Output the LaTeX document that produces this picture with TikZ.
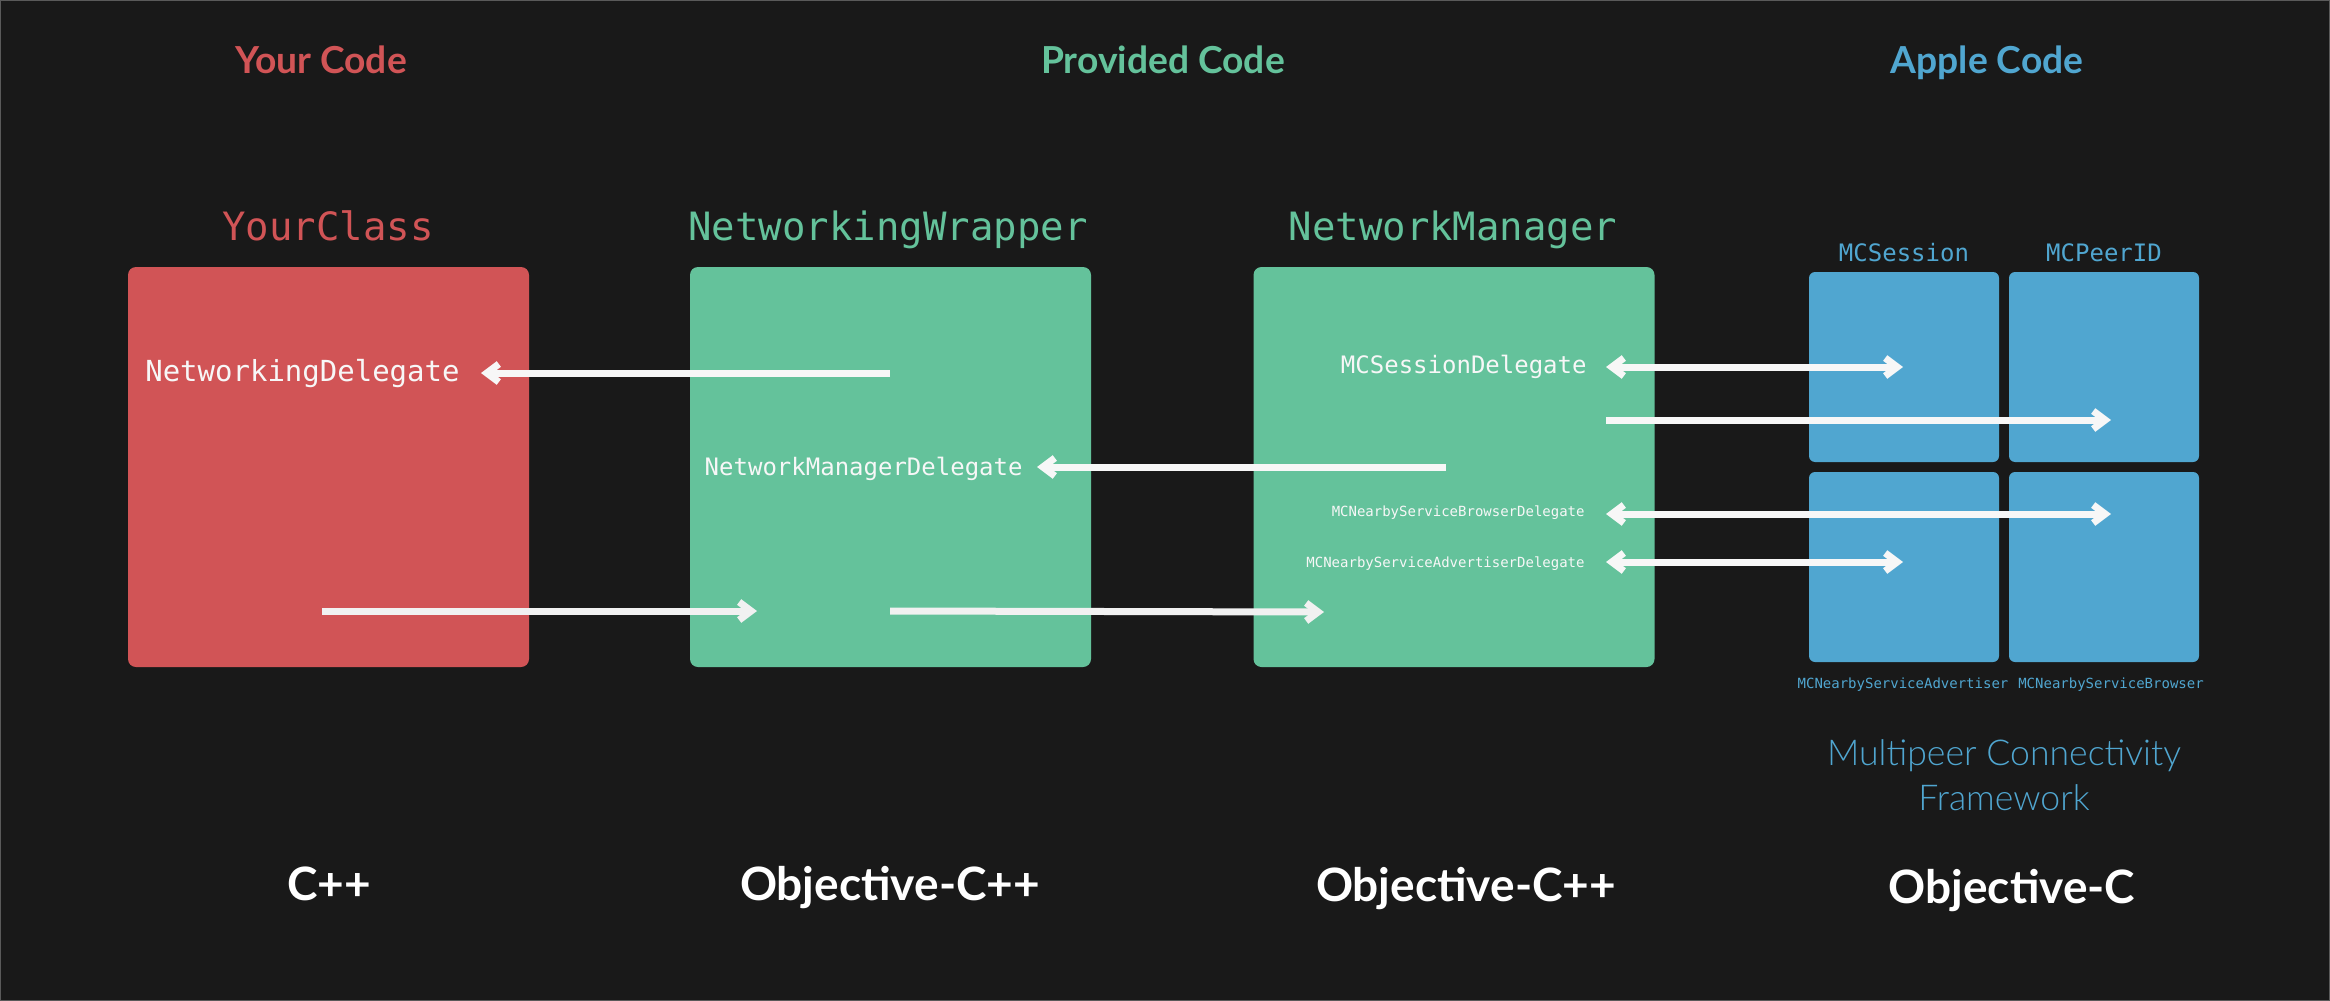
\documentclass[tikz,border=0pt]{standalone}
\usepackage{fontspec}
\setmainfont{Lato}
\newfontfamily\monof{DejaVu Sans Mono}
\newfontfamily\lightf{Lato Light}
\usetikzlibrary{arrows.meta}
\definecolor{bg}{HTML}{191919}
\definecolor{cred}{HTML}{D15456}
\definecolor{cgreen}{HTML}{64C29B}
\definecolor{cblue}{HTML}{50A6D0}
\definecolor{cwhite}{HTML}{F7F7F7}
\definecolor{framec}{HTML}{5A5A5A}
\tikzset{
  bigbox/.style={rounded corners=4pt, inner sep=0, minimum width=200.5pt, minimum height=200pt},
  smallbox/.style={rounded corners=3pt, inner sep=0, minimum width=95pt, minimum height=95pt, fill=cblue},
  headtxt/.style={inner sep=0, anchor=base, font=\fontsize{18.6}{20}\selectfont\bfseries},
  langtxt/.style={inner sep=0, anchor=base, text=white, font=\fontsize{23}{26}\selectfont\bfseries},
  classtxt/.style={inner sep=0, anchor=base, font=\fontsize{19.5}{22}\monof},
  deltxt/.style={inner sep=0, anchor=base east, text=cwhite, font=\fontsize{12}{14}\monof},
  smalltxt/.style={inner sep=0, anchor=base east, text=cwhite, font=\fontsize{7}{8}\monof},
  bluelbl/.style={inner sep=0, anchor=base, text=cblue},
  tipshape/.tip={Straight Barb[length=6pt,width=9pt]},
  arr/.style={draw=cwhite, line width=3.5pt, -tipshape},
  darr/.style={draw=cwhite, line width=3.5pt, tipshape-tipshape},
}
\begin{document}
\begin{tikzpicture}[x=0.5pt,y=-0.5pt]
\useasboundingbox (0,0) rectangle (2330,1001);
\fill[bg] (0,0) rectangle (2330,1001);
\draw[framec, line width=0.6pt] (0.6,0.6) rectangle (2329.4,1000.4);

% headings
\node[headtxt, text=cred] (hyour) at (321,73) {Your Code};
\node[headtxt, text=cgreen] (hprov) at (1163,73) {Provided Code};
\node[headtxt, text=cblue] (happle) at (1987,73) {Apple Code};

% class titles
\node[classtxt, text=cred] (tyour) at (328,240) {YourClass};
\node[classtxt, text=cgreen] (twrap) at (888,240) {NetworkingWrapper};
\node[classtxt, text=cgreen] (tman) at (1453,240) {NetworkManager};

% big boxes
\node[bigbox, fill=cred] (byour) at (328.5,467) {};
\node[bigbox, fill=cgreen] (bwrap) at (890.5,467) {};
\node[bigbox, fill=cgreen] (bman) at (1454,467) {};

% apple boxes
\node[smallbox] (bsess) at (1904,367) {};
\node[smallbox] (bpeer) at (2104,367) {};
\node[smallbox] (badv) at (1904,567) {};
\node[smallbox] (bbrow) at (2104,567) {};

\node[bluelbl, font=\fontsize{12}{14}\monof] (lsess) at (1904,261) {MCSession};
\node[bluelbl, font=\fontsize{12}{14}\monof] (lpeer) at (2104,261) {MCPeerID};
\node[bluelbl, font=\fontsize{7}{8}\monof] (ladv) at (1903,688) {MCNearbyServiceAdvertiser};
\node[bluelbl, font=\fontsize{7}{8}\monof] (lbrow) at (2111,688) {MCNearbyServiceBrowser};

\node[bluelbl, font=\fontsize{17.8}{20}\lightf] (lmpc1) at (2004,765) {Multipeer Connectivity};
\node[bluelbl, font=\fontsize{17.8}{20}\lightf] (lmpc2) at (2004,810) {Framework};

% delegate labels
\node[inner sep=0, anchor=base east, text=cwhite, font=\fontsize{14.5}{16}\monof] (dnet) at (460,381) {NetworkingDelegate};
\node[deltxt] (dman) at (1023,475) {NetworkManagerDelegate};
\node[deltxt] (dsess) at (1587,373) {MCSessionDelegate};
\node[smalltxt] (dbrow) at (1585,516) {MCNearbyServiceBrowserDelegate};
\node[smalltxt] (dadv) at (1585,567) {MCNearbyServiceAdvertiserDelegate};

% language labels
\node[langtxt] (lcpp) at (329,900) {C++};
\node[langtxt] (lobjcpp1) at (890,900) {Objective-C++};
\node[langtxt] (lobjcpp2) at (1466,901) {Objective-C++};
\node[langtxt] (lobjc) at (2012,903) {Objective-C};

% connector end points
\coordinate (w1) at (890,373);
\coordinate (n1) at (481,373);
\coordinate (m1) at (1446,467);
\coordinate (n2) at (1037,467);
\coordinate (y3) at (322,611);
\coordinate (w3) at (757,611);
\coordinate (w4) at (890,611);
\coordinate (m4) at (1324,612);
\coordinate (s5) at (1606,367);
\coordinate (e5) at (1903,367);
\coordinate (s6) at (1606,420);
\coordinate (e6) at (2111,420);
\coordinate (s7) at (1606,514);
\coordinate (e7) at (2111,514);
\coordinate (s8) at (1606,562);
\coordinate (e8) at (1903,562);

\draw[arr] (w1) -- (n1);
\draw[arr] (m1) -- (n2);
\draw[arr, draw=cwhite!95!gray] (y3) -- (w3);
\draw[arr, draw=cwhite!95!gray] (w4) -- (m4);
\draw[darr] (s5) -- (e5);
\draw[arr] (s6) -- (e6);
\draw[darr] (s7) -- (e7);
\draw[darr] (s8) -- (e8);
\end{tikzpicture}
\end{document}
